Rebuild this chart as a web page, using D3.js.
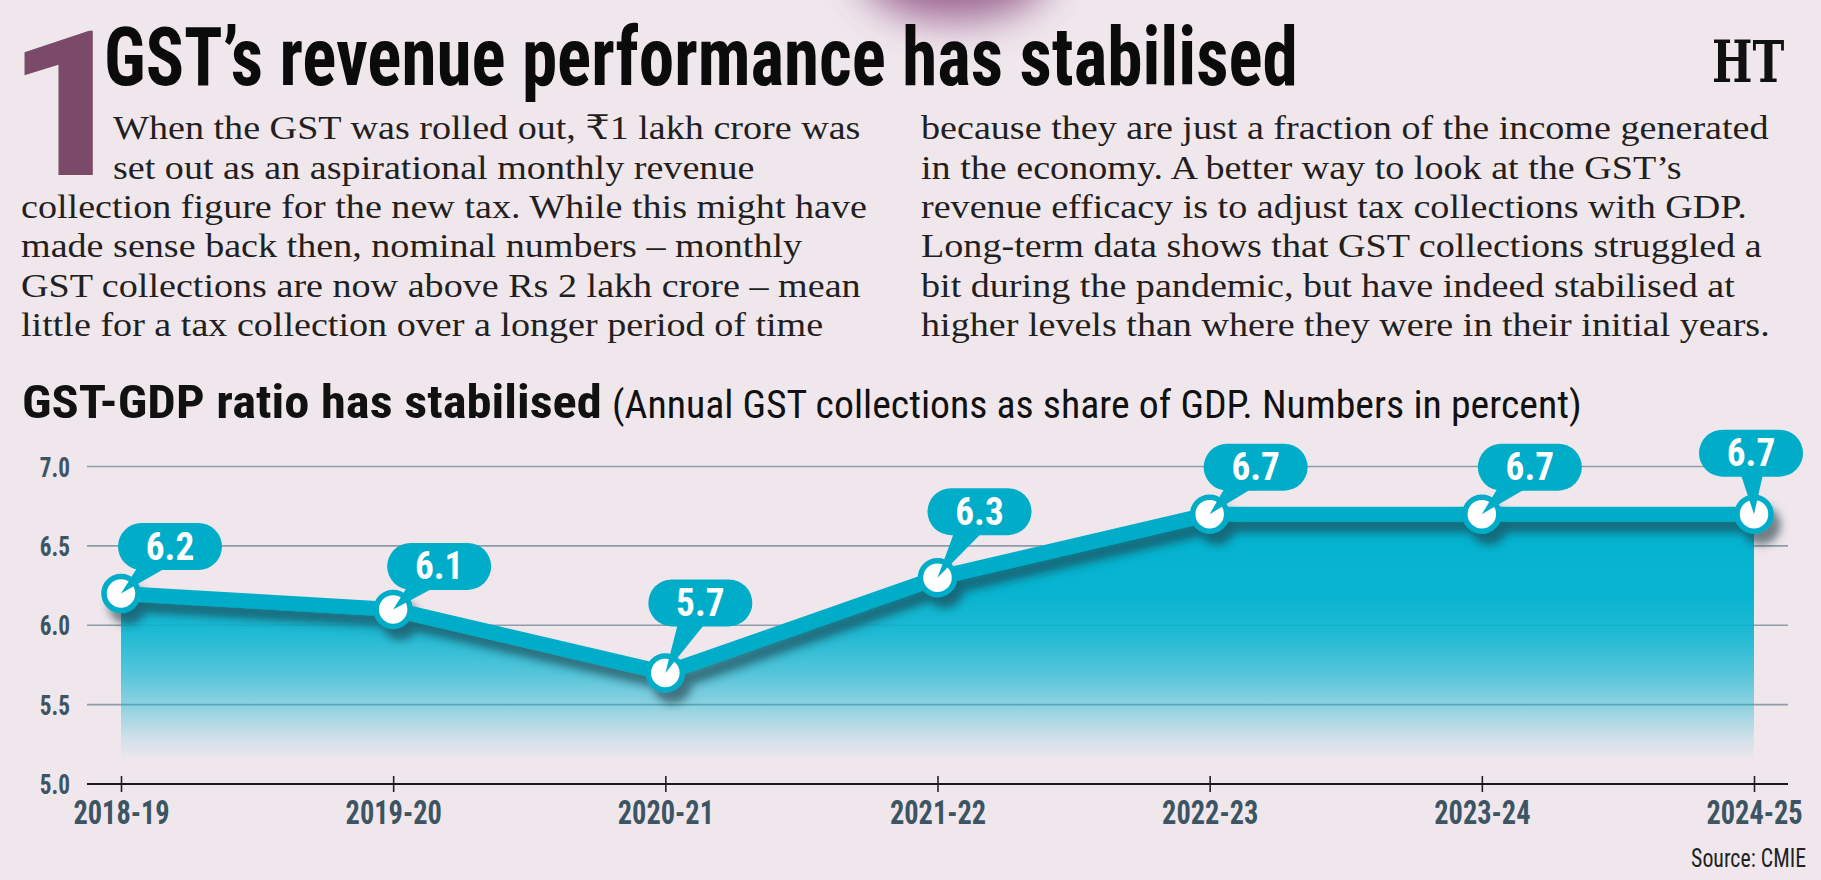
<!DOCTYPE html>
<html><head><meta charset="utf-8">
<script src="https://cdn.jsdelivr.net/npm/d3@7"></script>
<style>
html,body{margin:0;padding:0;background:#f0e7ed;overflow:hidden;}
svg{display:block;}
</style></head><body>
<svg id="chart" width="1821" height="880"></svg>
<script>
// ---------- DATA ----------
const categories = ["2018-19","2019-20","2020-21","2021-22","2022-23","2023-24","2024-25"];
const gstGdpRatio = [6.2, 6.1, 5.7, 6.3, 6.7, 6.7, 6.7];
const valueLabels = ["6.2","6.1","5.7","6.3","6.7","6.7","6.7"];
const yTicks = [5.0, 5.5, 6.0, 6.5, 7.0];
const yTickLabels = ["5.0","5.5","6.0","6.5","7.0"];
const bigNumber = "1";
const titleText = "GST\u2019s revenue performance has stabilised";
const logoText = "HT";
const bodyLeft = [
  "When the GST was rolled out, \u20b91 lakh crore was",
  "set out as an aspirational monthly revenue",
  "collection figure for the new tax. While this might have",
  "made sense back then, nominal numbers \u2013 monthly",
  "GST collections are now above Rs 2 lakh crore \u2013 mean",
  "little for a tax collection over a longer period of time"
];
const bodyRight = [
  "because they are just a fraction of the income generated",
  "in the economy. A better way to look at the GST\u2019s",
  "revenue efficacy is to adjust tax collections with GDP.",
  "Long-term data shows that GST collections struggled a",
  "bit during the pandemic, but have indeed stabilised at",
  "higher levels than where they were in their initial years."
];
const chartTitle = "GST-GDP ratio has stabilised";
const chartSubtitle = "(Annual GST collections as share of GDP. Numbers in percent)";
const sourceText = "Source: CMIE";

// ---------- LAYOUT / STYLE ----------
const W = 1821, H = 880;
const BG = "#f0e7ed";
const TEAL = "#00adc9";
const AREA = "#03b3d0";
const AXIS_TXT = "#3d5563";
const HEAD = "'Roboto Condensed','Liberation Sans Narrow','Roboto','Open Sans',sans-serif";
const SERIF = "'Liberation Serif','DejaVu Serif',serif";
// label bubble offsets (dx, dy from point to bubble centre)
const bubbleOffsets = [[49,-47],[46,-43],[35,-70],[42,-66],[46,-47],[48,-47],[-3,-61]];

function draw(){
const svg = d3.select("#chart");
const defs = svg.append("defs");
svg.append("rect").attr("width",W).attr("height",H).attr("fill",BG);

// purple blob at top (soft, blurred)
const bf = defs.append("filter").attr("id","blur").attr("filterUnits","userSpaceOnUse")
  .attr("x",650).attr("y",-150).attr("width",620).attr("height",320);
bf.append("feGaussianBlur").attr("stdDeviation",20);
svg.append("ellipse").attr("cx",955).attr("cy",-30).attr("rx",95).attr("ry",50)
  .attr("fill","#8a4c80").attr("opacity",0.85).attr("filter","url(#blur)");

// helpers
function fitText(parent, txt, x, y, width, size, family, weight, fill, anchor){
  const g = parent.append("g").attr("transform",`translate(${x},${y})`);
  const t = g.append("text").text(txt).attr("font-family",family).attr("font-weight",weight)
    .attr("font-size",size).attr("fill",fill).attr("text-anchor",anchor||"start");
  const w = t.node().getComputedTextLength();
  t.attr("transform",`scale(${width/w},1)`);
  return t;
}
function fitInk(parent, txt, family, weight, x0, y0, x1, y1, fill){
  const ctx = document.createElement("canvas").getContext("2d");
  const fs = 200;
  ctx.font = `${weight} ${fs}px ${family}`;
  const m = ctx.measureText(txt);
  const iw = m.actualBoundingBoxLeft + m.actualBoundingBoxRight;
  const ih = m.actualBoundingBoxAscent + m.actualBoundingBoxDescent;
  const sx = (x1-x0)/iw, sy = (y1-y0)/ih;
  parent.append("text").text(txt).attr("font-family",family).attr("font-weight",weight)
    .attr("font-size",fs).attr("fill",fill)
    .attr("transform",`translate(${x0 + m.actualBoundingBoxLeft*sx},${y0 + m.actualBoundingBoxAscent*sy}) scale(${sx},${sy})`);
}

// big "1"
fitInk(svg, bigNumber, HEAD, 700, 24, 30, 94, 175, "#7b4a69");
// title
fitText(svg, titleText, 104, 85, 1194, 82, HEAD, 700, "#0b0b0b");
// logo
fitInk(svg, logoText, "'DejaVu Serif',serif", 700, 1714, 40, 1784, 82, "#111");

// body text
const bodyG = svg.append("g");
const baseY = [139, 178.5, 218, 257, 296.5, 336];
const leftX = [113,113,21,21,21,21];
const measure = (txt)=>{
  const t = bodyG.append("text").text(txt).attr("font-family",SERIF).attr("font-size",34);
  const w = t.node().getComputedTextLength(); t.remove(); return w;
};
const sL = 844/measure(bodyLeft[2]);
const sR = 850/measure(bodyRight[0]);
const s = (sL+sR)/2;
bodyLeft.forEach((l,i)=>{
  bodyG.append("text").text(l).attr("font-family",SERIF).attr("font-size",34).attr("fill","#231f20")
    .attr("transform",`translate(${leftX[i]},${baseY[i]}) scale(${s},1)`);
});
bodyRight.forEach((l,i)=>{
  bodyG.append("text").text(l).attr("font-family",SERIF).attr("font-size",34).attr("fill","#231f20")
    .attr("transform",`translate(921,${baseY[i]}) scale(${s},1)`);
});

// chart title
fitText(svg, chartTitle, 22, 418, 580, 47, HEAD, 700, "#111");
fitText(svg, chartSubtitle, 612, 418, 970, 39, HEAD, 400, "#111");

// ---------- CHART ----------
const x = d3.scalePoint().domain(categories).range([121, 1754]);
const y = d3.scaleLinear().domain([5, 7]).range([784, 466.5]);
const gridX0 = 87, gridX1 = 1788;
const data = categories.map((c,i)=>({c, v:gstGdpRatio[i], lab:valueLabels[i], off:bubbleOffsets[i]}));

// gridlines
svg.append("g").selectAll("line").data(yTicks.slice(1)).join("line")
  .attr("x1",gridX0).attr("x2",gridX1).attr("y1",d=>y(d)).attr("y2",d=>y(d))
  .attr("stroke","#8e9da7").attr("stroke-width",1.6);

// area gradient
const yTop = y(6.7), yBot = y(5.0);
const off = v => (y(v)-yTop)/(yBot-yTop);
const lg = defs.append("linearGradient").attr("id","areaGrad").attr("gradientUnits","userSpaceOnUse")
  .attr("x1",0).attr("x2",0).attr("y1",yTop).attr("y2",yBot);
[[6.7,1],[6.2,0.98],[5.95,0.88],[5.7,0.66],[5.5,0.42],[5.3,0.15],[5.15,0]].forEach(([v,o])=>{
  lg.append("stop").attr("offset",off(v)).attr("stop-color",AREA).attr("stop-opacity",o);
});
const area = d3.area().x(d=>x(d.c)).y0(y(5)).y1(d=>y(d.v));
svg.append("path").datum(data).attr("d",area).attr("fill","url(#areaGrad)");

// x axis
const xAxis = d3.axisBottom(x).tickSize(16).tickPadding(14).tickSizeOuter(0);
const gx = svg.append("g").attr("transform",`translate(0,${y(5)-8})`).call(xAxis);
gx.select(".domain").remove();
gx.selectAll(".tick line").attr("stroke","#222").attr("stroke-width",1.6);
gx.append("line").attr("x1",gridX0).attr("x2",gridX1).attr("y1",8).attr("y2",8)
  .attr("stroke","#1a1a1a").attr("stroke-width",2.2);
gx.selectAll(".tick text").attr("font-family",HEAD).attr("font-weight",700).attr("font-size",33)
  .attr("fill",AXIS_TXT).attr("dy",null).attr("y",48).attr("transform","scale(0.86,1)");

// y axis labels
const yAxis = d3.axisLeft(y).tickValues(yTicks).tickFormat((d,i)=>yTickLabels[i]).tickSize(0).tickPadding(0);
const gy = svg.append("g").attr("transform","translate(70,0)").call(yAxis);
gy.select(".domain").remove();
gy.selectAll(".tick text").attr("font-family",HEAD).attr("font-weight",700).attr("font-size",27)
  .attr("fill",AXIS_TXT).attr("x",0).attr("dy","0.36em").attr("transform","scale(0.86,1)");

// shadow filter
const f = defs.append("filter").attr("id","shadow").attr("filterUnits","userSpaceOnUse")
  .attr("x",0).attr("y",0).attr("width",W).attr("height",H);
f.append("feGaussianBlur").attr("in","SourceAlpha").attr("stdDeviation",4.5).attr("result","b");
f.append("feOffset").attr("in","b").attr("dx",7).attr("dy",11).attr("result","ob");
f.append("feFlood").attr("flood-color","#1c3a44").attr("flood-opacity",0.6).attr("result","fl");
f.append("feComposite").attr("in","fl").attr("in2","ob").attr("operator","in").attr("result","sh");
const fm = f.append("feMerge");
fm.append("feMergeNode").attr("in","sh");
fm.append("feMergeNode").attr("in","SourceGraphic");

const lineG = svg.append("g").attr("filter","url(#shadow)");
const line = d3.line().x(d=>x(d.c)).y(d=>y(d.v));
lineG.append("path").datum(data).attr("d",line).attr("fill","none").attr("stroke",TEAL)
  .attr("stroke-width",15).attr("stroke-linejoin","round").attr("stroke-linecap","round");
lineG.selectAll("circle").data(data).join("circle")
  .attr("cx",d=>x(d.c)).attr("cy",d=>y(d.v)).attr("r",17)
  .attr("fill","#fff").attr("stroke",TEAL).attr("stroke-width",5.5);

// callouts
const cg = svg.append("g");
const BW = 104, BH = 47;
data.forEach(d=>{
  const px = x(d.c), py = y(d.v);
  const bx = px + d.off[0], by = py + d.off[1];
  const dx = bx-px, dy = by-py, len = Math.hypot(dx,dy);
  const nx = -dy/len, ny = dx/len, hw = 17;
  cg.append("path").attr("d",`M${px},${py}L${bx+nx*hw},${by+ny*hw}L${bx-nx*hw},${by-ny*hw}Z`).attr("fill",TEAL);
  cg.append("rect").attr("x",bx-BW/2).attr("y",by-BH/2).attr("width",BW).attr("height",BH)
    .attr("rx",BH/2).attr("ry",BH/2).attr("fill",TEAL);
  cg.append("g").attr("transform",`translate(${bx},${by+13})`).append("text").text(d.lab)
    .attr("text-anchor","middle").attr("font-family",HEAD).attr("font-weight",700)
    .attr("font-size",38).attr("fill","#fff").attr("transform","scale(0.98,1)");
});

// source
fitText(svg, sourceText, 1806, 867, 115, 25, HEAD, 400, "#222", "end");
}
if (document.fonts && document.fonts.ready) document.fonts.ready.then(draw); else draw();
</script>
</body></html>
